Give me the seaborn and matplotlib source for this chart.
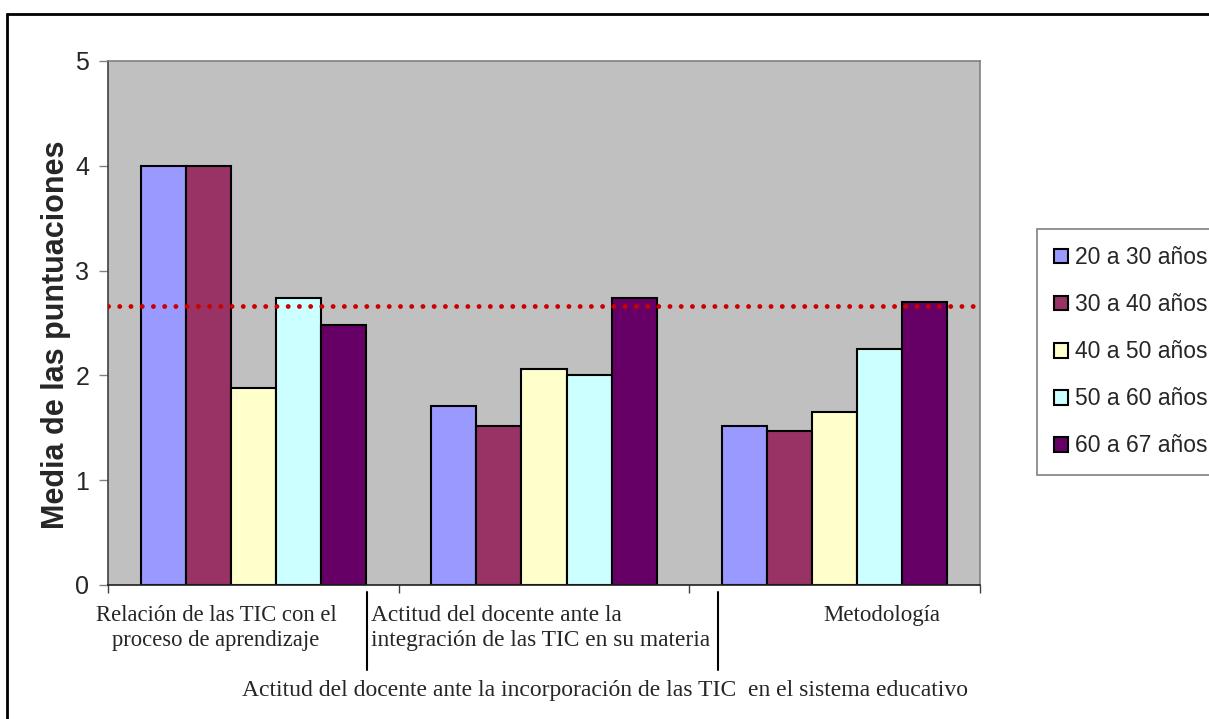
import pandas as pd
import numpy as np
import matplotlib
matplotlib.use('Agg')
import matplotlib.pyplot as plt
import seaborn as sns
from matplotlib.lines import Line2D

# data
categorias = ['Relación', 'Actitud', 'Metodología']
grupos = ['20 a 30 años', '30 a 40 años', '40 a 50 años', '50 a 60 años', '60 a 67 años']
valores = {
    '20 a 30 años': [4.00, 1.71, 1.52],
    '30 a 40 años': [4.00, 1.52, 1.47],
    '40 a 50 años': [1.88, 2.06, 1.65],
    '50 a 60 años': [2.74, 2.00, 2.25],
    '60 a 67 años': [2.48, 2.74, 2.70],
}
media_general = 2.66
colores = ['#9999FF', '#993366', '#FFFFCC', '#CCFFFF', '#660066']

rows = []
for g in grupos:
    for c, v in zip(categorias, valores[g]):
        rows.append({'categoria': c, 'grupo': g, 'media': v})
df = pd.DataFrame(rows)

sns.set_style('white')
plt.rcParams['font.family'] = ['Liberation Sans', 'DejaVu Sans']

fig = plt.figure(figsize=(12.09, 7.19), dpi=100)
W, H = 1209, 719
ax = fig.add_axes([108 / W, 1 - 585 / H, 872 / W, 524 / H])

sns.barplot(data=df, x='categoria', y='media', hue='grupo', palette=colores,
            saturation=1, width=0.775, edgecolor='black', linewidth=1.5, ax=ax)
ax.set_facecolor('#C0C0C0')

# dotted mean line
ax.axhline(media_general, color='#CC0000', linewidth=3.5,
           linestyle=(0, (0.01, 2.3)), dash_capstyle='round', zorder=5)

ax.set_ylim(0, 5)
ax.set_xlim(-0.5, 2.5)
ax.set_yticks([0, 1, 2, 3, 4, 5])
ax.set_yticklabels(['0', '1', '2', '3', '4', '5'], fontsize=18)
ax.set_xticks([-0.5, 0.5, 1.5, 2.5])
ax.set_xticklabels([])
ax.tick_params(axis='y', direction='out', length=6.5, width=1, color='#808080', pad=7, left=True)
ax.tick_params(axis='x', direction='out', length=6, width=1, color='#404040', bottom=True)
ax.set_xlabel('')
ax.set_ylabel('')

for side in ['top', 'right']:
    ax.spines[side].set_color('#808080')
    ax.spines[side].set_linewidth(1.2)
ax.spines['left'].set_color('#404040')
ax.spines['bottom'].set_color('#202020')
ax.spines['left'].set_linewidth(1.2)
ax.spines['bottom'].set_linewidth(1.2)

ax.text((56 - 108) / 872, (585 - 335) / 524, 'Media de las puntuaciones',
        transform=ax.transAxes, rotation=90, ha='center', va='center',
        fontsize=22, fontweight='bold')

# category labels (serif, placed as in the original)
serif = ['Liberation Serif', 'DejaVu Serif']
def px(x, y):
    return ((x - 108) / 872, (585 - y) / 524)

ax.text(*px(216, 605), 'Relación de las TIC con el\nproceso de aprendizaje',
        transform=ax.transAxes, ha='center', va='top', fontsize=16.3,
        family=serif, linespacing=1.25)
ax.text(*px(371, 605), 'Actitud del docente ante la\nintegración de las TIC en su materia',
        transform=ax.transAxes, ha='left', va='top', fontsize=16.8,
        family=serif, linespacing=1.25)
ax.text(*px(882, 605), 'Metodología', transform=ax.transAxes, ha='center', va='top',
        fontsize=16.5, family=serif)
ax.text(*px(605, 680), 'Actitud del docente ante la incorporación de las TIC  en el sistema educativo',
        transform=ax.transAxes, ha='center', va='top', fontsize=17, family=serif)

for xl in [367, 718]:
    fig.add_artist(Line2D([xl / W, xl / W], [1 - 592 / H, 1 - 670 / H],
                          color='black', linewidth=1.5))

# legend
handles, labels = ax.get_legend_handles_labels()
ax.get_legend().remove()
leg = fig.legend(handles, labels, loc='upper left',
                 bbox_to_anchor=(1037 / W, 1 - 229 / H), fontsize=16.5,
                 handlelength=0.6, handleheight=0.6, handletextpad=0.3,
                 labelspacing=1.05, borderpad=0.75, borderaxespad=0,
                 frameon=True, fancybox=False, edgecolor='#606060')
leg.get_frame().set_linewidth(1.2)

# outer chart border
fig.add_artist(Line2D([7 / W, 7 / W], [-0.1, 1 - 14 / H], color='black', linewidth=2))
fig.add_artist(Line2D([7 / W, 1.1], [1 - 14 / H, 1 - 14 / H], color='black', linewidth=2))

fig.savefig('out.png', dpi=100)
